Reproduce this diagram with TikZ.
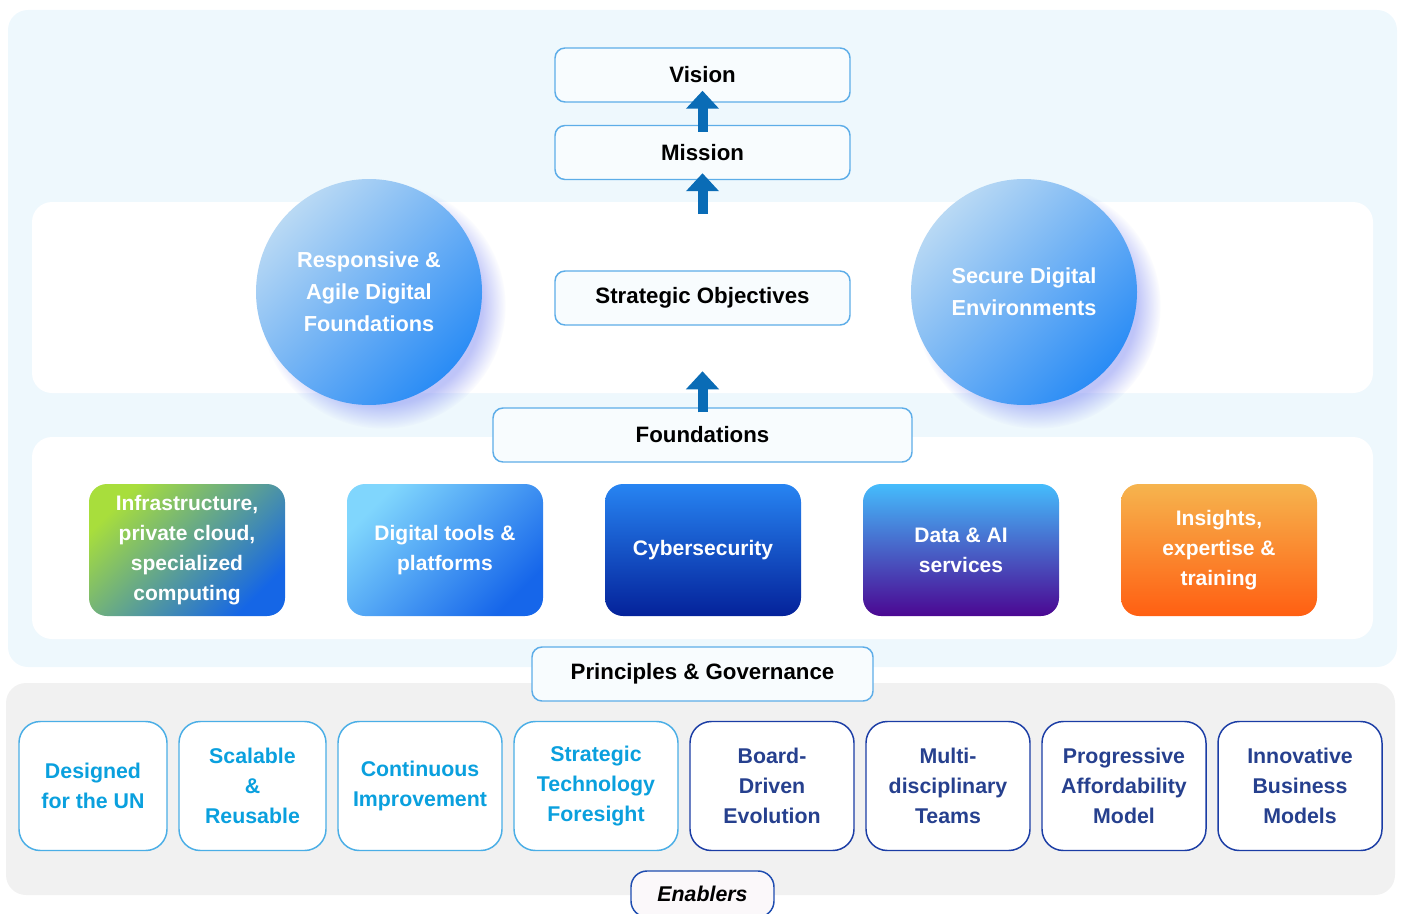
\documentclass[tikz,border=0pt]{standalone}
\usepackage{fontspec}
\setmainfont{Liberation Sans}
\usetikzlibrary{arrows.meta,fadings,calc}
\definecolor{bglight}{HTML}{EEF8FD}
\definecolor{bggrey}{HTML}{F1F1F1}
\definecolor{hdrline}{HTML}{5DADE8}
\definecolor{hdrfill}{HTML}{F8FCFE}
\definecolor{arrowblue}{HTML}{0A6CB6}
\definecolor{elightline}{HTML}{4AAEE6}
\definecolor{elighttext}{HTML}{0AA0DE}
\definecolor{edarkline}{HTML}{1B3DA5}
\definecolor{edarktext}{HTML}{26408E}
\definecolor{circA}{HTML}{B9D9F4}
\definecolor{circB}{HTML}{2A8CF5}
\definecolor{glowcol}{HTML}{7F8AF2}
\definecolor{gA}{HTML}{A8DE3C}\definecolor{gB}{HTML}{1566E6}
\definecolor{lbA}{HTML}{80D6FD}\definecolor{lbB}{HTML}{1666EA}
\definecolor{cyA}{HTML}{2784F2}\definecolor{cyB}{HTML}{04229A}
\definecolor{daA}{HTML}{45BCFC}\definecolor{daB}{HTML}{4B0792}
\definecolor{inA}{HTML}{F6B44E}\definecolor{inB}{HTML}{FF5F12}
\definecolor{enfill}{HTML}{FBF8FA}
\definecolor{enline}{HTML}{1E4CB0}
\begin{document}
\begin{tikzpicture}[x=0.75pt,y=-0.75pt,
 hdr/.style={draw=hdrline,line width=1.1pt,fill=hdrfill,rounded corners=7.5pt,minimum height=40.5pt,minimum width=221.25pt,inner sep=0pt,font=\fontsize{16.7}{20}\selectfont\bfseries,text=black},
 cbox/.style={rounded corners=13.5pt,minimum width=147pt,minimum height=99pt,inner sep=0pt,text=white,align=center,font=\fontsize{15.75}{22.5}\selectfont\bfseries},
 ebox/.style={draw,line width=1.1pt,fill=white,rounded corners=16pt,minimum height=96.75pt,inner sep=0pt,align=center,font=\fontsize{16}{22.5}\selectfont\bfseries},
 elight/.style={ebox,draw=elightline,text=elighttext},
 edark/.style={ebox,draw=edarkline,text=edarktext},
 circ/.style={circle,minimum size=169.5pt,inner sep=0pt,top color=circA,bottom color=circB,shading angle=45,text=white,align=center,font=\fontsize{16.3}{24}\selectfont\bfseries},
 glow/.style={fill=glowcol,fill opacity=0.5,path fading=circle with fuzzy edge 20 percent},
 blockarrow/.style={draw=arrowblue,line width=7.5pt,-{Triangle[width=24pt,length=13.5pt]}},
]
\useasboundingbox (0,0) rectangle (1405,913);
% backgrounds
\fill[bglight,rounded corners=15pt] (8,10) rectangle (1397,667);
\fill[white,rounded corners=15pt] (32,202) rectangle (1373,393);
\fill[white,rounded corners=15pt] (32,437) rectangle (1373,639);
\fill[bggrey,rounded corners=15pt] (6,683) rectangle (1395,895);
% circles
\fill[glow] (383,306) circle (92pt);
\fill[glow] (1038,306) circle (92pt);
\node[circ] (resp) at (369,292) {Responsive \&\\Agile Digital\\Foundations};
\node[circ] (secure) at (1024,292) {Secure Digital\\Environments};
% header boxes
\node[hdr] (vision) at (702.5,75) {Vision};
\node[hdr] (mission) at (702.5,152.5) {Mission};
\node[hdr] (strat) at (702.5,298) {Strategic Objectives};
\node[hdr,minimum width=314.25pt] (found) at (702.5,435) {Foundations};
\node[hdr,minimum width=255.75pt] (princ) at (702.5,674) {Principles \& Governance};
\node[hdr,draw=enline,fill=enfill,minimum width=107.25pt,minimum height=34.5pt,rounded corners=12pt,font=\fontsize{16}{20}\selectfont\bfseries\itshape] (enab) at (702.5,894) {Enablers};
% arrows
\draw[blockarrow] ($(mission.north)+(0,7)$) -- ($(vision.south)+(0,-12)$);
\draw[blockarrow] ($(mission.south)+(0,34)$) -- ($(mission.south)+(0,-7)$);
\draw[blockarrow] ($(found.north)+(0,5)$) -- ($(found.north)+(0,-36)$);
% foundation boxes
\node[cbox,top color=gA,bottom color=gB,shading angle=45] (infra) at (187,550) {Infrastructure,\\private cloud,\\specialized\\computing};
\node[cbox,top color=lbA,bottom color=lbB,shading angle=45] (tools) at (445,550) {Digital tools \&\\platforms};
\node[cbox,top color=cyA,bottom color=cyB] (cyber) at (703,550) {Cybersecurity};
\node[cbox,top color=daA,bottom color=daB] (data) at (961,550) {Data \& AI\\services};
\node[cbox,top color=inA,bottom color=inB] (insight) at (1219,550) {Insights,\\expertise \&\\training};
% enablers
\node[elight,minimum width=111pt] (e1) at (93,786) {Designed\\for the UN};
\node[elight,minimum width=110.25pt] (e2) at (252.5,786) {Scalable\\\&\\Reusable};
\node[elight,minimum width=123pt] (e3) at (420,786) {Continuous\\Improvement};
\node[elight,minimum width=123pt] (e4) at (596,786) {Strategic\\Technology\\Foresight};
\node[edark,minimum width=123pt] (e5) at (772,786) {Board-\\Driven\\Evolution};
\node[edark,minimum width=123pt] (e6) at (948,786) {Multi-\\disciplinary\\Teams};
\node[edark,minimum width=123pt] (e7) at (1124,786) {Progressive\\Affordability\\Model};
\node[edark,minimum width=123pt] (e8) at (1300,786) {Innovative\\Business\\Models};
\end{tikzpicture}
\end{document}
